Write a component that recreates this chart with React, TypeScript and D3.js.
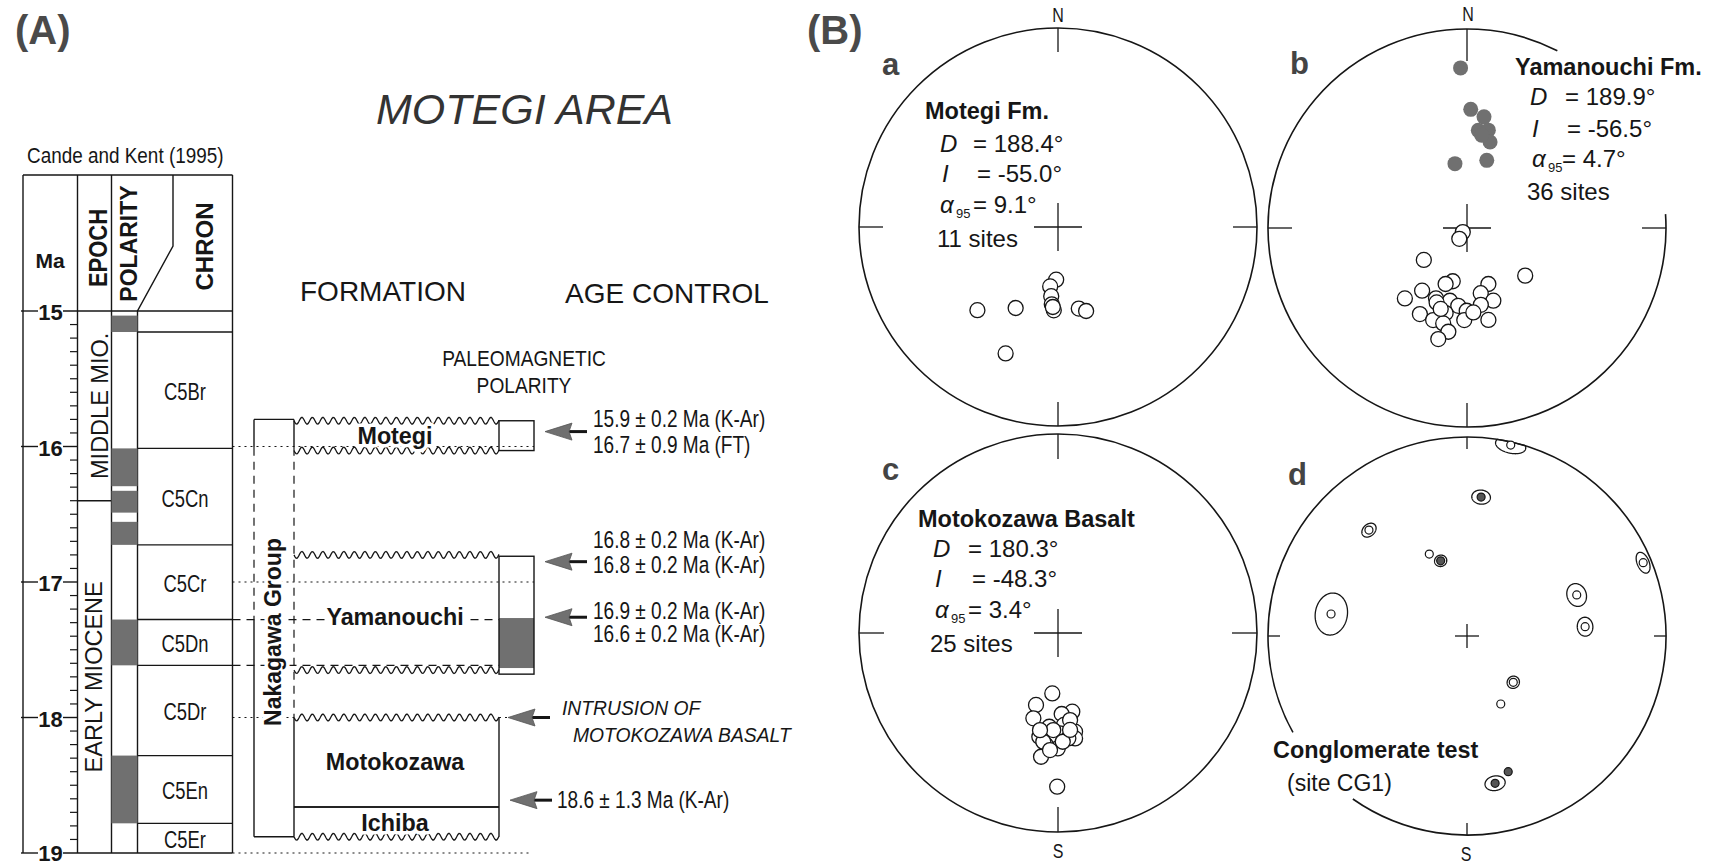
import * as d3 from "d3";
import React from "react";

const FONT = "'Liberation Sans', Arial, Helvetica, sans-serif";
const INK = "#161616";
const SHADE = "#707070";

// ---- Cande and Kent (1995) time scale, Ma ----
const MA_LABELS = [15, 16, 17, 18, 19];
const CHRON_NAMES = ["", "C5Br", "C5Cn", "C5Cr", "C5Dn", "C5Dr", "C5En", "C5Er"];
const CHRON_BOUNDS = [15.0, 15.155, 16.014, 16.726, 17.277, 17.615, 18.281, 18.781, 19.0];
const NORMAL_POLARITY: [number, number][] = [
  [15.034, 15.155],
  [16.014, 16.293],
  [16.327, 16.488],
  [16.556, 16.726],
  [17.277, 17.615],
  [18.281, 18.781],
];
const EPOCH_NAMES = ["MIDDLE MIO.", "EARLY MIOCENE"];
const EPOCH_BOUNDS = [15.0, 16.4, 19.0];

// ---- formations (Ma) ----
const FORMATION_NAMES = ["Motegi", "Yamanouchi", "Motokozawa", "Ichiba"];
const FORMATION_TOPS = [15.81, 16.8, 18.0, 18.66];
const FORMATION_BASES = [16.03, 17.65, 18.66, 18.88];
const FORMATION_LABEL_AGES = [15.92, 17.26, 18.33, 18.78];
const CONTACT_TOP = ["wavy", "wavy", "wavy", "line"];
const CONTACT_BASE = ["wavy", "wavy", "line", "wavy"];
const GROUP_TOP = 15.8;
const GROUP_BASE = 18.88;

// observed paleomagnetic polarity columns
const OBS_TOPS = [15.81, 16.81];
const OBS_BASES = [16.03, 17.68];
const OBS_NORMAL: [number, number][] = [[17.266, 17.635]];

// age control
const ARROW_AGES = [15.89, 16.85, 17.26, 18.0, 18.61];
const ARROW_LABELS = [
  ["15.9 ± 0.2 Ma (K-Ar)", "16.7 ± 0.9 Ma (FT)"],
  ["16.8 ± 0.2 Ma (K-Ar)", "16.8 ± 0.2 Ma (K-Ar)"],
  ["16.9 ± 0.2 Ma (K-Ar)", "16.6 ± 0.2 Ma (K-Ar)"],
  ["INTRUSION OF", "MOTOKOZAWA BASALT"],
  ["18.6 ± 1.3 Ma (K-Ar)"],
];

// ---- paleomagnetic directions [declination, inclination] ----
const NET_TITLES = ["Motegi Fm.", "Yamanouchi Fm.", "Motokozawa Basalt"];
const NET_D = ["188.4°", "189.9°", "180.3°"];
const NET_I = ["-55.0°", "-56.5°", "-48.3°"];
const NET_A95 = ["9.1°", "4.7°", "3.4°"];
const NET_N = ["11 sites", "36 sites", "25 sites"];

const MOTEGI_SITES: [number, number][] = [
  [182.0, -68.4], [187.5, -65.4], [185.6, -61.4], [184.6, -58.0], [182.9, -55.5],
  [224.1, -41.4], [207.6, -52.1], [165.7, -55.2], [161.5, -53.3], [202.5, -31.8],
  [183.7, -56.9],
];
const YAMANOUCHI_SITES: [number, number][] = [
  [357.7, 20.6], [1.8, 40.1], [8.7, 42.9], [6.6, 49.1], [12.3, 48.3], [15.0, 53.1],
  [349.4, 63.1], [16.3, 61.0], [9.0, 51.0],
  [225.7, -87.6], [215.5, -84.6], [233.5, -68.0], [129.3, -59.0], [195.0, -67.4],
  [200.9, -65.4], [159.1, -65.4], [215.6, -58.2], [221.4, -51.0], [168.1, -62.6],
  [203.8, -58.3], [193.2, -59.2], [160.1, -58.1], [202.2, -56.8], [186.4, -57.7],
  [169.8, -57.8], [208.7, -49.2], [194.1, -53.7], [180.2, -55.8], [200.2, -49.2],
  [181.7, -51.8], [166.9, -50.8], [194.0, -49.1], [190.2, -46.0], [194.5, -41.9],
  [198.0, -54.8], [175.7, -55.0],
];
const MOTOKOZAWA_SITES: [number, number][] = [
  [185.4, -65.1], [197.0, -59.0], [196.1, -53.2], [169.7, -57.0], [177.4, -56.5],
  [176.3, -51.8], [185.3, -50.9], [170.2, -48.3], [170.8, -45.4], [190.2, -46.0],
  [186.3, -47.2], [178.9, -48.2], [182.5, -44.5], [186.1, -42.8], [180.1, -41.6],
  [187.8, -37.3], [180.3, -23.8], [172.1, -53.6], [182.8, -49.6], [174.4, -45.8],
  [187.7, -44.1], [177.5, -44.5], [183.9, -40.7], [190.5, -48.9], [172.9, -49.4],
];
// conglomerate clasts [dec, inc, a95]
const CONGLOMERATE_CLASTS: [number, number, number][] = [
  [12.9, -1.8, 4.5], [5.8, 30.5, 3.3], [317.2, -28.3, 2.8], [335.3, -52.6, 0],
  [340.7, 57.1, 2.4], [67.4, -4.6, 3.3], [69.5, -40.8, 4.3], [279.2, -31.4, 7.5],
  [85.5, -40.2, 3.5], [135.0, -63.1, 2.5], [153.6, -58.7, 0], [163.1, 29.5, 0],
  [169.2, 25.6, 3.5],
];

// ---- layout ----
const X = { left: 23, ma: 77.5, epoch: 111.5, pol: 137.5, chron: 232.5, top: 175, kinkX: 173, kinkY: 246, g0: 254, g1: 294, f1: 499, o1: 534 };
const ARROW_TIP_X = [545, 545, 545, 508, 510];
const LABEL_X = [[593, 593], [593, 593], [593, 593], [562, 573], [557]];
const LABEL_DY = [[-5, 21], [-14, 11], [2, 25], [-3, 24], [8]];
const NET_R = 199;
const PANELS = [
  { cx: 1058, cy: 227, tick: 24, tickN: 24, cross: 24, gap: null as null | [number, number] },
  { cx: 1467, cy: 228, tick: 24, tickN: 32, cross: 24, gap: [27, 86] as [number, number] },
  { cx: 1058, cy: 633, tick: 25, tickN: 25, cross: 24, gap: null },
  { cx: 1467, cy: 636, tick: 12, tickN: 12, cross: 12, gap: [215, 241] as [number, number] },
];
const STATS_POS = [
  { title: [925, 119], d: [940, 152, 973], i: [942, 182, 977], a: [940, 213, 973], n: [937, 247] },
  { title: [1515, 75], d: [1530, 105, 1565], i: [1532, 137, 1567], a: [1532, 167, 1562], n: [1527, 200] },
  { title: [918, 527], d: [933, 557, 968], i: [935, 587, 972], a: [935, 618, 968], n: [930, 652] },
];

type TxtProps = {
  x: number; y: number; size: number; sx?: number; anchor?: "start" | "middle" | "end";
  weight?: string | number; italic?: boolean; rot?: number; fill?: string; halo?: boolean;
  children: React.ReactNode;
};
const Txt = ({ x, y, size, sx = 1, anchor = "start", weight = "normal", italic = false, rot = 0, fill = INK, halo = false, children }: TxtProps) => (
  <text
    transform={`translate(${x},${y})` + (rot ? ` rotate(${rot})` : "") + (sx !== 1 ? ` scale(${sx},1)` : "")}
    fontFamily={FONT}
    fontSize={size}
    fontWeight={weight}
    fontStyle={italic ? "italic" : "normal"}
    textAnchor={anchor}
    fill={fill}
    stroke={halo ? "#fff" : "none"}
    strokeWidth={halo ? 7 : 0}
    strokeLinejoin="round"
    paintOrder="stroke"
  >
    {children}
  </text>
);

// wavy unconformity line
const wave = (x0: number, x1: number, y: number) =>
  d3.line()(d3.range(x0, x1 + 0.5, 1).map((x) => [x, y + 3.4 * Math.sin(((x - x0) / 10.5) * 2 * Math.PI)] as [number, number])) || "";

const rimPath = (cx: number, cy: number, r: number, gap: null | [number, number]) => {
  const p = d3.path();
  if (!gap) {
    p.moveTo(cx + r, cy);
    p.arc(cx, cy, r, 0, 2 * Math.PI);
    return p.toString();
  }
  const rad = (g: number) => ((g - 90) * Math.PI) / 180;
  const a0 = rad(gap[1]);
  const a1 = rad(gap[0] + 360);
  p.moveTo(cx + r * Math.cos(a0), cy + r * Math.sin(a0));
  p.arc(cx, cy, r, a0, a1);
  return p.toString();
};

const lonLat = (dec: number, inc: number): [number, number] => [180 - dec, Math.abs(inc)];

export default function App() {
  const age = d3.scaleLinear().domain([15, 19]).range([311, 853]);
  const minor = age.ticks(40).filter((t) => Math.abs(t - Math.round(t)) > 1e-6);
  const line = { stroke: INK, strokeWidth: 1.4, fill: "none" };
  const dotted = { stroke: INK, strokeWidth: 1.2, strokeDasharray: "2,4" };
  const dashed = { stroke: INK, strokeWidth: 1.2, strokeDasharray: "8,6" };

  const projs = PANELS.map((p) =>
    d3.geoAzimuthalEqualArea().rotate([0, -90]).clipAngle(90).scale(NET_R / Math.SQRT2).translate([p.cx, p.cy]).precision(0.2)
  );
  const siteSets = [MOTEGI_SITES, YAMANOUCHI_SITES, MOTOKOZAWA_SITES];

  return (
    <svg width={1710} height={864} style={{ position: "absolute", left: 0, top: 0, background: "#fff" }}>
      <rect width={1710} height={864} fill="#fff" />

      {/* ===== (A) ===== */}
      <Txt x={15} y={44} size={40} weight="bold" fill="#4a4a4a">(A)</Txt>
      <Txt x={376} y={124} size={43} italic fill="#333">MOTEGI AREA</Txt>
      <Txt x={27} y={163} size={22} sx={0.86}>Cande and Kent (1995)</Txt>

      {/* table frame */}
      <line x1={X.left} x2={X.chron} y1={X.top} y2={X.top} {...line} />
      <line x1={X.left} x2={X.left} y1={X.top} y2={age(19)} {...line} />
      <line x1={X.ma} x2={X.ma} y1={X.top} y2={age(19)} {...line} />
      <line x1={X.epoch} x2={X.epoch} y1={X.top} y2={age(19)} {...line} />
      <path d={`M${X.pol},${age(19)}L${X.pol},${age(15)}L${X.kinkX},${X.kinkY}L${X.kinkX},${X.top}`} {...line} />
      <line x1={X.chron} x2={X.chron} y1={X.top} y2={age(19)} {...line} />

      <Txt x={50} y={268} size={21} weight="bold" anchor="middle">Ma</Txt>
      <Txt x={107} y={248} size={25} sx={0.88} weight="bold" anchor="middle" rot={-90}>EPOCH</Txt>
      <Txt x={136.5} y={243.5} size={23} weight="bold" anchor="middle" rot={-90}>POLARITY</Txt>
      <Txt x={213} y={246.5} size={24} weight="bold" anchor="middle" rot={-90}>CHRON</Txt>

      {/* Ma axis */}
      {minor.map((t) => (
        <line key={t} x1={70} x2={X.ma} y1={age(t)} y2={age(t)} stroke={INK} strokeWidth={1.2} />
      ))}
      {MA_LABELS.map((m) => (
        <g key={m}>
          <line x1={21} x2={38} y1={age(m)} y2={age(m)} {...line} />
          <line x1={63} x2={m === 15 || m === 19 ? X.chron : X.ma} y1={age(m)} y2={age(m)} {...line} />
          <Txt x={50.5} y={age(m) + (m === 19 ? 8 : 9)} size={22} weight="bold" anchor="middle">{m}</Txt>
        </g>
      ))}

      {/* epochs */}
      {EPOCH_NAMES.map((n, i) => (
        <g key={n}>
          {i > 0 && <line x1={X.ma} x2={X.epoch} y1={age(EPOCH_BOUNDS[i])} y2={age(EPOCH_BOUNDS[i])} {...line} />}
          <Txt x={i === 0 ? 108 : 102} y={(age(EPOCH_BOUNDS[i]) + age(EPOCH_BOUNDS[i + 1])) / 2} size={23.5} anchor="middle" rot={-90}>
            {n}
          </Txt>
        </g>
      ))}

      {/* polarity */}
      {NORMAL_POLARITY.map(([a, b]) => (
        <rect key={a} x={X.epoch} y={age(a)} width={X.pol - X.epoch} height={age(b) - age(a)} fill={SHADE} />
      ))}

      {/* chrons */}
      {CHRON_NAMES.map((n, i) => (
        <g key={i}>
          {i > 0 && <line x1={X.pol} x2={X.chron} y1={age(CHRON_BOUNDS[i])} y2={age(CHRON_BOUNDS[i])} {...line} />}
          {n && (
            <Txt x={185} y={(age(CHRON_BOUNDS[i]) + age(CHRON_BOUNDS[i + 1])) / 2 + 10} size={23} sx={0.8} anchor="middle">
              {n}
            </Txt>
          )}
        </g>
      ))}

      {/* headers */}
      <Txt x={300} y={301} size={28}>FORMATION</Txt>
      <Txt x={565} y={303} size={28}>AGE CONTROL</Txt>
      <Txt x={524} y={366} size={22.3} sx={0.86} anchor="middle">PALEOMAGNETIC</Txt>
      <Txt x={524} y={392.5} size={22.3} sx={0.86} anchor="middle">POLARITY</Txt>

      {/* correlation guides */}
      <line x1={X.chron} x2={X.o1} y1={age(16)} y2={age(16)} {...dotted} />
      <line x1={X.chron} x2={X.o1} y1={age(17)} y2={age(17)} {...dotted} />
      <line x1={X.chron} x2={X.o1} y1={age(17.277)} y2={age(17.277)} {...dashed} />
      <line x1={X.chron} x2={X.f1} y1={age(17.615)} y2={age(17.615)} {...dashed} />
      <line x1={X.chron} x2={X.g1} y1={age(18)} y2={age(18)} {...dotted} />
      <line x1={X.f1} x2={X.f1 + 13} y1={age(18)} y2={age(18)} {...dotted} />
      <line x1={X.chron} x2={530} y1={age(19)} y2={age(19)} {...dotted} />

      {/* Nakagawa Group */}
      <line x1={X.g0} x2={X.g1} y1={age(GROUP_TOP)} y2={age(GROUP_TOP)} {...line} />
      <line x1={X.g0} x2={X.g1} y1={age(GROUP_BASE)} y2={age(GROUP_BASE)} {...line} />
      <line x1={X.g0} x2={X.g0} y1={age(GROUP_TOP)} y2={age(16.01)} {...line} />
      <line x1={X.g0} x2={X.g0} y1={age(16.01)} y2={age(17.277)} {...dashed} />
      <line x1={X.g0} x2={X.g0} y1={age(17.277)} y2={age(GROUP_BASE)} {...line} />
      <line x1={X.g1} x2={X.g1} y1={age(GROUP_TOP)} y2={age(16.01)} {...line} />
      <line x1={X.g1} x2={X.g1} y1={age(16.01)} y2={age(18)} {...dashed} />
      <line x1={X.g1} x2={X.g1} y1={age(18)} y2={age(GROUP_BASE)} {...line} />
      <Txt x={281} y={632} size={23} weight="bold" anchor="middle" rot={-90} halo>Nakagawa Group</Txt>

      {/* formations */}
      {FORMATION_NAMES.map((n, i) => {
        const yt = age(FORMATION_TOPS[i]);
        const yb = age(FORMATION_BASES[i]);
        return (
          <g key={n}>
            {CONTACT_TOP[i] === "wavy" ? (
              <path d={wave(X.g1, X.f1, yt)} {...line} strokeWidth={1.3} />
            ) : (
              <line x1={X.g1} x2={X.f1} y1={yt} y2={yt} {...line} />
            )}
            {CONTACT_BASE[i] === "wavy" ? (
              <path d={wave(X.g1, X.f1, yb)} {...line} strokeWidth={1.3} />
            ) : (
              <line x1={X.g1} x2={X.f1} y1={yb} y2={yb} {...line} />
            )}
            {i >= 2 && <line x1={X.f1} x2={X.f1} y1={yt} y2={yb} {...line} />}
            <Txt x={395} y={age(FORMATION_LABEL_AGES[i]) + 8} size={23.3} weight="bold" anchor="middle" halo>
              {n}
            </Txt>
          </g>
        );
      })}

      {/* observed polarity */}
      {OBS_NORMAL.map(([a, b]) => (
        <rect key={a} x={X.f1} y={age(a)} width={X.o1 - X.f1} height={age(b) - age(a)} fill={SHADE} />
      ))}
      {OBS_TOPS.map((t, i) => (
        <rect key={t} x={X.f1} y={age(t)} width={X.o1 - X.f1} height={age(OBS_BASES[i]) - age(t)} {...line} />
      ))}

      {/* age arrows */}
      {ARROW_AGES.map((a, i) => {
        const y = age(a);
        const tx = ARROW_TIP_X[i];
        const italic = i === 3;
        return (
          <g key={a}>
            <line x1={tx + 22} x2={tx + 42} y1={y} y2={y} stroke={INK} strokeWidth={3} />
            <path d={`M${tx},${y}L${tx + 27},${y - 8.5}L${tx + 24},${y}L${tx + 27},${y + 8.5}Z`} fill={SHADE} stroke="#555" strokeWidth={0.8} />
            {ARROW_LABELS[i].map((s, k) => (
              <Txt key={k} x={LABEL_X[i][k]} y={y + LABEL_DY[i][k]} size={italic ? 21 : 23.5} sx={italic ? 0.92 : 0.81} italic={italic}>
                {s}
              </Txt>
            ))}
          </g>
        );
      })}

      {/* ===== (B) ===== */}
      <Txt x={807} y={44} size={40} weight="bold" fill="#4a4a4a">(B)</Txt>

      {PANELS.map((p, k) => {
        const proj = projs[k];
        return (
          <g key={k}>
            <path d={rimPath(p.cx, p.cy, NET_R, p.gap)} fill="none" stroke={INK} strokeWidth={1.6} />
            {[0, 90, 180, 270].map((g) => {
              const len = g === 0 ? p.tickN : p.tick;
              const s = Math.sin((g * Math.PI) / 180);
              const c = -Math.cos((g * Math.PI) / 180);
              return (
                <line key={g} x1={p.cx + s * NET_R} y1={p.cy + c * NET_R} x2={p.cx + s * (NET_R - len)} y2={p.cy + c * (NET_R - len)} stroke={INK} strokeWidth={1.3} />
              );
            })}
            <line x1={p.cx - p.cross} x2={p.cx + p.cross} y1={p.cy} y2={p.cy} stroke={INK} strokeWidth={1.3} />
            <line x1={p.cx} x2={p.cx} y1={p.cy - p.cross} y2={p.cy + p.cross} stroke={INK} strokeWidth={1.3} />

            {k < 3 &&
              siteSets[k].map(([dec, inc], j) => {
                const xy = proj(lonLat(dec, inc));
                if (!xy) return null;
                return inc > 0 ? (
                  <circle key={j} cx={xy[0]} cy={xy[1]} r={7.5} fill={SHADE} />
                ) : (
                  <circle key={j} cx={xy[0]} cy={xy[1]} r={7.5} fill="#fff" stroke={INK} strokeWidth={1.3} />
                );
              })}

            {k === 3 &&
              CONGLOMERATE_CLASTS.map(([dec, inc, a95], j) => {
                const xy = proj(lonLat(dec, inc));
                if (!xy) return null;
                const ring = a95 > 0 ? d3.geoPath(proj)(d3.geoCircle().center(lonLat(dec, inc)).radius(a95).precision(3)()) : null;
                return (
                  <g key={j}>
                    {ring && <path d={ring} fill="none" stroke={INK} strokeWidth={1.3} />}
                    <circle cx={xy[0]} cy={xy[1]} r={4} fill={inc > 0 ? "#555" : "#fff"} stroke={INK} strokeWidth={1.2} />
                  </g>
                );
              })}
          </g>
        );
      })}

      {/* panel letters and compass labels */}
      <Txt x={882} y={75} size={31} weight="bold" fill="#444">a</Txt>
      <Txt x={1290} y={74} size={31} weight="bold" fill="#444">b</Txt>
      <Txt x={882} y={480} size={31} weight="bold" fill="#444">c</Txt>
      <Txt x={1288} y={485} size={31} weight="bold" fill="#444">d</Txt>
      <Txt x={1058} y={22} size={20} sx={0.8} anchor="middle">N</Txt>
      <Txt x={1468} y={21} size={20} sx={0.8} anchor="middle">N</Txt>
      <Txt x={1058} y={858} size={20} sx={0.8} anchor="middle">S</Txt>
      <Txt x={1466} y={861} size={20} sx={0.8} anchor="middle">S</Txt>

      {/* mean directions */}
      {STATS_POS.map((s, k) => (
        <g key={k}>
          <Txt x={s.title[0]} y={s.title[1]} size={23.5} weight="bold" halo>{NET_TITLES[k]}</Txt>
          <Txt x={s.d[0]} y={s.d[1]} size={24} italic>D</Txt>
          <Txt x={s.d[2]} y={s.d[1]} size={24}>{"= " + NET_D[k]}</Txt>
          <Txt x={s.i[0]} y={s.i[1]} size={24} italic>I</Txt>
          <Txt x={s.i[2]} y={s.i[1]} size={24}>{"= " + NET_I[k]}</Txt>
          <Txt x={s.a[0]} y={s.a[1]} size={24} italic>α</Txt>
          <Txt x={s.a[0] + 16} y={s.a[1] + 5} size={13}>95</Txt>
          <Txt x={s.a[2]} y={s.a[1]} size={24}>{"= " + NET_A95[k]}</Txt>
          <Txt x={s.n[0]} y={s.n[1]} size={24}>{NET_N[k]}</Txt>
        </g>
      ))}
      <Txt x={1273} y={758} size={23.4} weight="bold">Conglomerate test</Txt>
      <Txt x={1287} y={791} size={23}>(site CG1)</Txt>
    </svg>
  );
}
